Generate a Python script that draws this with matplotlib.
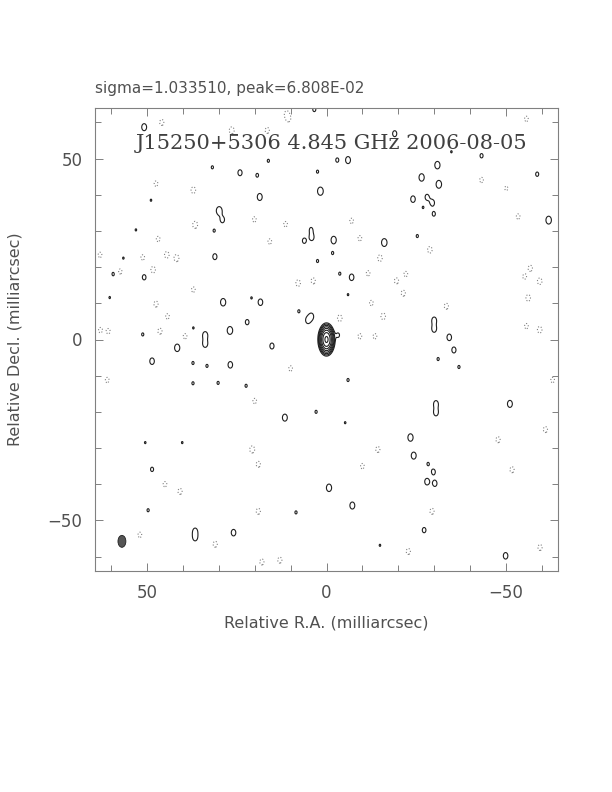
import numpy as np
import matplotlib
matplotlib.use("Agg")
import matplotlib.pyplot as plt
from matplotlib.patches import Ellipse

# ---------------- data ----------------
map_title = "J15250+5306 4.845 GHz 2006-08-05"
header_text = "sigma=1.033510, peak=6.808E-02"
x_label = "Relative R.A. (milliarcsec)"
y_label = "Relative Decl. (milliarcsec)"
tick_values = [-50, 0, 50]
tick_labels = ["\u221250", "0", "50"]
map_half_width = 64.5     # mas
map_half_height = 64.0    # mas

peak_flux = 0.06808       # Jy/beam
lowest_level = 0.00045    # Jy/beam
level_multipliers = [-1, 1, 2, 4, 8, 16, 32, 64, 128]

# core component (RA offset, Dec offset, sigma_ra, sigma_dec) in mas
core_ra, core_dec = 0.0, 0.0
core_sigma_ra, core_sigma_dec = 0.76, 1.45

# restoring beam (FWHM, mas)
beam_minor = 2.2
beam_major = 3.3
beam_ra, beam_dec = 57.0, -55.8

# noise-feature width (sigma, mas)
feat_sigma_ra, feat_sigma_dec = 0.7, 1.0

# positive residual features: RA, Dec (mas), amplitude (units of lowest level)
pos_ra = [50.8, 31.8, 24.1, 19.3, 16.2, 3.4, 2.5, 1.7, 18.6, 29.9, 29.0, 31.3,
          4.1, 4.3, 6.2, 48.9, 53.1, 31.1, 2.5, 56.6, 59.4, 50.8, 60.4, 28.8,
          18.4, 20.9, 22.1, 4.2, 5.2, 7.7, 26.9, 33.8, 33.8, 37.1, 51.2,
          -19.0, -3.0, -6.0, -30.9, -26.5, -31.3, -43.2, -58.7, -24.1, -28.0,
          -29.5, -26.9, -29.9, -61.9, -2.0, -16.1, -25.3, -1.7, -3.7, -7.0,
          -6.0, -34.8, -30.0, -30.0, -34.2, -3.2,
          41.6, 15.2, 37.2, 33.3, 48.6, 37.2, 26.8, 30.2, 22.4, 11.6, 2.9, -6.0,
          -31.1, -35.5, -36.9, -30.5, -30.5, -51.1, -23.4, -24.3, -28.3, -29.8,
          -28.0, -30.2, -0.7, -7.2, 25.9, 36.6, 36.6, 49.7, 48.6, 50.5, 40.2,
          8.5, -14.9, -27.2, -49.9, -5.2]
pos_dec = [58.7, 47.6, 46.1, 45.4, 49.4, 63.6, 46.4, 41.0, 39.4, 35.6, 33.1, 30.1,
           28.2, 30.4, 27.3, 38.5, 30.3, 22.9, 21.7, 22.5, 18.1, 17.2, 11.6, 10.3,
           10.3, 11.5, 4.8, 6.4, 5.3, 7.8, 2.5, 1.2, -1.2, 3.2, 1.4,
           56.9, 49.6, 49.6, 48.2, 44.8, 42.9, 50.8, 45.7, 38.8, 39.4,
           37.8, 36.5, 34.7, 33.0, 27.5, 26.8, 28.6, 23.9, 18.2, 17.2,
           12.4, 51.9, 5.3, 2.9, 0.6, 1.2,
           -2.3, -1.8, -6.5, -7.3, -6.0, -12.1, -7.0, -12.0, -12.8, -21.6, -20.0, -11.2,
           -5.4, -2.9, -7.6, -17.8, -20.2, -17.8, -27.1, -32.1, -34.4, -36.6,
           -39.3, -39.8, -41.0, -45.9, -53.4, -53.0, -54.8, -47.2, -35.9, -28.5, -28.5,
           -47.8, -56.9, -52.7, -59.8, -23.0]
pos_amp = [1.6, 1.1, 1.4, 1.15, 1.1, 1.2, 1.1, 1.9, 1.6, 1.9, 1.4, 1.1,
           1.4, 1.15, 1.3, 1.05, 1.05, 1.4, 1.1, 1.05, 1.15, 1.3, 1.05, 1.7,
           1.5, 1.05, 1.3, 1.4, 1.4, 1.1, 1.8, 1.6, 1.6, 1.05, 1.1,
           1.4, 1.2, 1.6, 1.7, 1.7, 1.8, 1.2, 1.2, 1.5, 1.3,
           1.4, 1.05, 1.2, 1.8, 1.7, 1.8, 1.1, 1.1, 1.1, 1.5,
           1.05, 1.05, 1.5, 1.5, 1.5, 1.2,
           1.7, 1.4, 1.1, 1.1, 1.5, 1.1, 1.5, 1.1, 1.1, 1.6, 1.1, 1.1,
           1.1, 1.4, 1.1, 1.5, 1.5, 1.6, 1.7, 1.6, 1.1, 1.3,
           1.5, 1.4, 1.7, 1.6, 1.5, 1.4, 1.4, 1.1, 1.2, 1.05, 1.05,
           1.1, 1.05, 1.3, 1.5, 1.05]

# negative residual features
neg_ra = [45.9, 11.1, 10.6, 26.4, 16.5, 47.5, 37.1, 36.6, 20.1, 11.4, 46.9, 15.8,
          44.5, 41.8, 48.3, 57.5, 63.1, 51.2, 37.1, 47.5, 44.3, 46.4, 60.8, 7.9,
          3.7, 39.4,
          -55.7, -7.0, -9.3, -28.8, -14.9, -11.6, -22.1, -19.5, -21.4, -12.5, -33.4,
          -15.8, -3.7, -56.8, -59.4, -55.2, -56.2, -59.4, -55.7, -43.2, -50.1, -53.4,
          -13.5, -9.3,
          20.7, 19.0, 40.8, 31.0, 19.0, -14.3, -29.4, -22.8, -59.5, -63.0, -61.0,
          -47.8, 61.1, 63.0, 13.0, 18.0, -51.7, 52.0, 45.0, 10.0, -10.0, 20.0]
neg_dec = [60.0, 62.4, 61.0, 57.8, 57.8, 43.1, 41.3, 31.7, 33.2, 31.9, 27.8, 27.1,
           23.4, 22.5, 19.3, 18.8, 23.4, 22.7, 13.8, 9.8, 6.4, 2.3, 2.3, 15.6,
           16.2, 0.9,
           61.0, 32.8, 28.0, 24.8, 22.5, 18.3, 18.1, 16.2, 12.8, 10.1, 9.2,
           6.4, 5.9, 19.7, 16.1, 17.4, 11.5, 2.7, 3.7, 44.1, 41.8, 34.0,
           0.9, 0.9,
           -30.4, -34.5, -42.0, -56.6, -47.5, -30.4, -47.5, -58.6, -57.5, -11.2, -24.9,
           -27.7, -11.2, 2.6, -61.0, -61.5, -36.0, -54.0, -40.0, -8.0, -35.0, -17.0]
neg_amp = [1.4, 1.3, 1.3, 1.6, 1.4, 1.3, 1.5, 1.6, 1.3, 1.3, 1.3, 1.3,
           1.5, 1.6, 1.5, 1.3, 1.3, 1.3, 1.3, 1.4, 1.3, 1.4, 1.3, 1.5,
           1.4, 1.3,
           1.3, 1.3, 1.3, 1.5, 1.5, 1.3, 1.3, 1.4, 1.4, 1.3, 1.4,
           1.5, 1.5, 1.4, 1.5, 1.3, 1.5, 1.5, 1.3, 1.3, 1.2, 1.3,
           1.3, 1.3,
           1.6, 1.4, 1.4, 1.4, 1.4, 1.4, 1.4, 1.4, 1.4, 1.3, 1.4,
           1.4, 1.3, 1.3, 1.4, 1.4, 1.4, 1.3, 1.3, 1.3, 1.3, 1.3]

# ---------------- build map ----------------
step = 0.15
ra = np.arange(-map_half_width, map_half_width + step, step)
dec = np.arange(-map_half_height, map_half_height + step, step)
RA, DEC = np.meshgrid(ra, dec)

Z = peak_flux * np.exp(-0.5 * (((RA - core_ra) / core_sigma_ra) ** 2 +
                               ((DEC - core_dec) / core_sigma_dec) ** 2))


def add_feature(r, d, a):
    sel_r = np.abs(ra - r) < 7
    sel_d = np.abs(dec - d) < 7
    sub_ra = ra[sel_r][None, :]
    sub_dec = dec[sel_d][:, None]
    g = a * lowest_level * np.exp(-0.5 * (((sub_ra - r) / feat_sigma_ra) ** 2 +
                                          ((sub_dec - d) / feat_sigma_dec) ** 2))
    Z[np.ix_(sel_d, sel_r)] += g


for r, d, a in zip(pos_ra, pos_dec, pos_amp):
    add_feature(r, d, a)
for r, d, a in zip(neg_ra, neg_dec, neg_amp):
    add_feature(r, d, -a)

levels = [m * lowest_level for m in level_multipliers]

# ---------------- plot ----------------
text_color = "#505050"
fig = plt.figure(figsize=(6.12, 7.92), dpi=100)
ax = fig.add_axes([95 / 612, 1 - 571 / 792, 463 / 612, 463 / 792])

colors = ["#808080" if lv < 0 else "#202020" for lv in levels]
styles = ["dotted" if lv < 0 else "solid" for lv in levels]
ax.contour(RA, DEC, Z, levels=levels, colors=colors, linestyles=styles, linewidths=0.8)

ax.add_patch(Ellipse((beam_ra, beam_dec), beam_minor, beam_major, angle=0,
                     facecolor="#555555", edgecolor="#202020", linewidth=0.6))

ax.set_xlim(map_half_width, -map_half_width)
ax.set_ylim(-map_half_height, map_half_height)
ax.set_xticks(tick_values)
ax.set_yticks(tick_values)
ax.set_xticklabels(tick_labels)
ax.set_yticklabels(tick_labels)
ax.set_xticks(np.arange(-60, 61, 10), minor=True)
ax.set_yticks(np.arange(-60, 61, 10), minor=True)
ax.tick_params(which="both", direction="in", top=True, right=True, color="#808080", width=0.7)
ax.tick_params(which="major", length=5.5, labelsize=12, labelcolor=text_color, pad=9)
ax.tick_params(which="minor", length=4)
ax.tick_params(axis="y", pad=9)
for sp in ax.spines.values():
    sp.set_color("#808080")
    sp.set_linewidth(0.8)

ax.set_xlabel(x_label, fontsize=11.5, color=text_color, labelpad=10)
ax.set_ylabel(y_label, fontsize=11.5, color=text_color, labelpad=18)

ax.text(0.512, 0.924, map_title, transform=ax.transAxes, ha="center", va="center",
        fontsize=15, family="DejaVu Serif", color="#404040")
fig.text(95 / 612, 1 - 88 / 792, header_text, ha="left", va="center",
         fontsize=11, color=text_color)

fig.savefig("out.png", dpi=100)
